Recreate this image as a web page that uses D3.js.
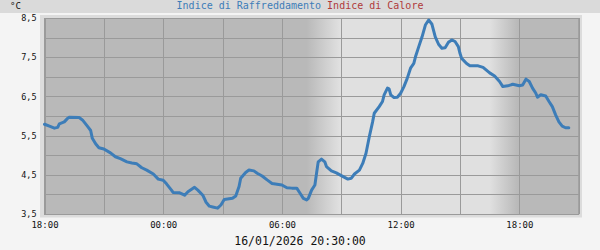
<!DOCTYPE html>
<html><head><meta charset="utf-8">
<script src="https://cdn.jsdelivr.net/npm/d3@7"></script>
<style>
html,body{margin:0;padding:0;background:#f4f4f4;}
svg{display:block;}
text{font-family:"DejaVu Sans Mono",monospace;}
</style></head>
<body>
<svg id="c" width="600" height="250"></svg>
<script>
// ---- data ----
const times = ["18:00","18:15","18:30","18:40","18:45","19:00","19:10","19:15","19:45","19:55","20:10","20:20","20:25","20:35","20:45","21:00","21:20","21:35","21:50","22:10","22:25","22:40","22:55","23:10","23:30","23:45",
"00:00","00:10","00:25","00:30","00:50","01:05","01:15","01:35","01:45","02:00","02:10","02:20","02:30","02:45","02:55","03:05","03:30","03:40","03:50","03:55","04:10","04:20","04:35","04:45","05:00","05:15","05:30","05:45",
"06:00","06:15","06:30","06:45","06:55","07:05","07:15","07:20","07:30","07:40","07:45","07:50","08:00","08:10","08:15","08:30","08:45","09:00","09:20","09:30","09:40","09:55","10:05","10:15","10:25","10:35","10:40","10:55",
"11:05","11:10","11:20","11:25","11:30","11:40","11:50","12:00","12:10","12:20","12:30","12:40","12:45","12:55","13:05","13:15","13:25","13:35","13:45","13:55","14:05","14:15","14:25","14:35","14:45","14:55","15:00","15:05",
"15:20","15:30","15:55","16:10","16:20","16:30","16:45","17:00","17:10","17:25","17:40","17:50","18:00","18:10","18:20","18:30","18:40","18:50","18:55","19:05","19:20","19:30","19:40","19:50","20:00","20:10","20:20","20:30"];
const coolingIndex = [5.79,5.74,5.69,5.71,5.80,5.85,5.94,5.97,5.96,5.90,5.74,5.63,5.43,5.29,5.19,5.16,5.06,4.96,4.91,4.83,4.80,4.78,4.68,4.62,4.52,4.39,
4.36,4.27,4.11,4.05,4.04,3.98,4.07,4.18,4.11,3.98,3.80,3.70,3.68,3.65,3.73,3.87,3.90,3.96,4.20,4.41,4.56,4.62,4.60,4.54,4.47,4.37,4.28,4.26,
4.24,4.17,4.16,4.16,4.03,3.90,3.86,3.90,4.11,4.24,4.54,4.83,4.90,4.83,4.71,4.60,4.55,4.48,4.39,4.41,4.52,4.62,4.79,5.05,5.47,5.85,6.07,6.24,
6.37,6.54,6.71,6.69,6.54,6.47,6.48,6.58,6.75,6.96,7.22,7.34,7.51,7.77,8.02,8.32,8.45,8.34,8.02,7.83,7.73,7.74,7.88,7.94,7.90,7.77,7.60,7.47,
7.34,7.28,7.28,7.24,7.17,7.10,7.02,6.88,6.75,6.77,6.81,6.79,6.77,6.79,6.94,6.88,6.71,6.58,6.48,6.54,6.51,6.37,6.24,6.03,5.85,5.74,5.70,5.70];
const xTickLabels = ["18:00","00:00","06:00","12:00","18:00"];
const yTickLabels = ["3,5","4,5","5,5","6,5","7,5","8,5"];
const legendLabels = ["Indice di Raffreddamento","Indice di Calore"];
const unitLabel = "°C";
const dateLabel = "16/01/2026 20:30:00";
const dawn = ["07:15","08:55"];
const dusk = ["16:30","17:55"];

// ---- build ----
const start = new Date(2026,0,15,18,0), end = new Date(2026,0,16,21,0);
function parseSeq(arr){
  let day = 15, prev = -1;
  return arr.map(s=>{ const [h,m]=s.split(":").map(Number); const mm=h*60+m; if(mm<prev) day++; prev=mm; return new Date(2026,0,day,h,m); });
}
const dates = parseSeq(times);
const data = dates.map((d,i)=>({t:d, v:coolingIndex[i]}));

const svg = d3.select("#c");
const L=44.5, R=578.7, T=18, B=214;
const x = d3.scaleTime().domain([start,end]).range([L,R]);
const y = d3.scaleLinear().domain([3.5,8.5]).range([B,T]);

svg.append("rect").attr("x",0).attr("y",0).attr("width",600).attr("height",250).attr("fill","#f4f4f4");
svg.append("rect").attr("x",0).attr("y",0).attr("width",600).attr("height",13).attr("fill","#dadada");
svg.append("rect").attr("x",40).attr("y",15).attr("width",542).attr("height",202.5).attr("fill","#dcdcdc");

// background day/night gradient
const toD = (s,day)=>{const [h,m]=s.split(":").map(Number); return new Date(2026,0,day,h,m);};
const dark="#b9b9b9", light="#e0e0e0";
const g = svg.append("defs").append("linearGradient").attr("id","bg")
  .attr("gradientUnits","userSpaceOnUse").attr("x1",L).attr("x2",R).attr("y1",0).attr("y2",0);
const off = d => (x(d)-L)/(R-L);
[[0,dark],[off(toD(dawn[0],16)),dark],[off(toD(dawn[1],16)),light],[off(toD(dusk[0],16)),light],[off(toD(dusk[1],16)),dark],[1,dark]]
  .forEach(([o,c])=>g.append("stop").attr("offset",o).attr("stop-color",c));
svg.append("rect").attr("x",L).attr("y",T).attr("width",R-L).attr("height",B-T).attr("fill","url(#bg)");

// grid
const gridX = d3.timeHour.every(3).range(start, new Date(+end+1));
svg.append("g").selectAll("line").data(gridX).join("line")
  .attr("x1",d=>Math.round(x(d))+0.5).attr("x2",d=>Math.round(x(d))+0.5).attr("y1",T).attr("y2",B)
  .attr("stroke","#9a9a9a").attr("stroke-width",1);
const gridY = d3.range(3.5,8.51,0.5);
svg.append("g").selectAll("line").data(gridY).join("line")
  .attr("x1",L).attr("x2",R).attr("y1",d=>Math.round(y(d))+0.5).attr("y2",d=>Math.round(y(d))+0.5)
  .attr("stroke","#9a9a9a").attr("stroke-width",1);
svg.append("rect").attr("x",L).attr("y",T+0.5).attr("width",R-L).attr("height",B-T)
  .attr("fill","none").attr("stroke","#9a9a9a");

// axes labels
const xTicks = d3.timeHour.every(6).range(start, end);
const xa = svg.append("g").attr("transform",`translate(0,${B})`)
  .call(d3.axisBottom(x).tickValues(xTicks).tickSize(0).tickPadding(8).tickFormat((d,i)=>xTickLabels[i]));
xa.select(".domain").remove();
xa.selectAll("text").attr("font-family","DejaVu Sans Mono").attr("font-size","9px").attr("fill","#111");

const yTicks = d3.range(3.5,8.51,1);
const ya = svg.append("g").attr("transform",`translate(${L},0)`)
  .call(d3.axisLeft(y).tickValues(yTicks).tickSize(0).tickPadding(8).tickFormat((d,i)=>yTickLabels[i]));
ya.select(".domain").remove();
ya.selectAll("text").attr("font-family","DejaVu Sans Mono").attr("font-size","8.5px").attr("fill","#111");

// line
svg.append("path").datum(data)
  .attr("d", d3.line().x(d=>x(d.t)).y(d=>y(d.v)))
  .attr("fill","none").attr("stroke","#3d7db8").attr("stroke-width",3)
  .attr("stroke-linejoin","round").attr("stroke-linecap","round");

// header
svg.append("text").attr("x",10).attr("y",9).attr("font-size","9px").attr("fill","#111").text(unitLabel);
const lg = svg.append("text").attr("x",300).attr("y",9).attr("text-anchor","middle").attr("font-size","10px");
lg.append("tspan").attr("fill","#3d7db8").text(legendLabels[0]+" ");
lg.append("tspan").attr("fill","#b03a3a").text(legendLabels[1]);

svg.append("text").attr("x",300).attr("y",245).attr("text-anchor","middle").attr("font-size","11.5px").attr("fill","#111").text(dateLabel);
</script>
</body></html>
